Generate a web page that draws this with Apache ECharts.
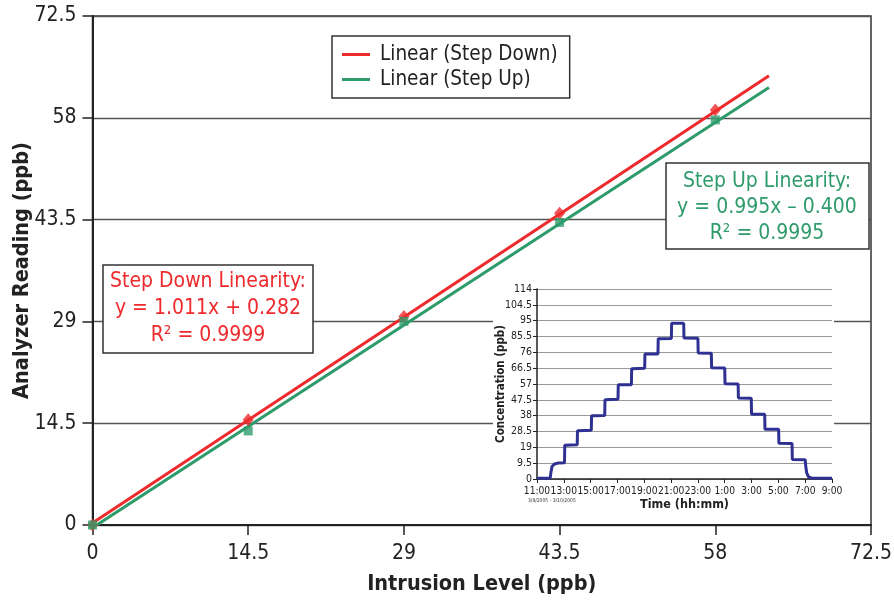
<!DOCTYPE html>
<html>
<head>
<meta charset="utf-8">
<script src="https://cdn.jsdelivr.net/npm/echarts@6/dist/echarts.min.js"></script>
<style>
  html, body { margin: 0; padding: 0; background: #fff; }
  #chart { width: 894px; height: 600px; }
</style>
</head>
<body>
<div id="chart"></div>
<script>
// main chart: intrusion level vs analyzer reading
const levelTicks = [0, 14.5, 29, 43.5, 58, 72.5]
const intrusionLevels = [0, 14.5, 29, 43.5, 58]
const stepDownReadings = [0, 15.0, 29.7, 44.4, 59.1]
const stepUpReadings = [0, 13.4, 29.0, 43.1, 57.7]
// trend line end points (x, y)
const stepDownFit = [[0, 0.3], [63, 64.0]]
const stepUpFit = [[0, -0.4], [63, 62.3]]

// inset: concentration vs time (hours after 11:00)
const timeLabels = ['11:00', '13:00', '15:00', '17:00', '19:00', '21:00', '23:00', '1:00', '3:00', '5:00', '7:00', '9:00']
const insetHours = [0, 0.98, 1.04, 1.12, 1.3, 1.6, 2.05, 2.07, 3.0, 3.02, 4.05, 4.07, 5.05, 5.07, 6.04, 6.06, 7.04, 7.06, 8.03, 8.05, 9.02, 9.04, 10.02, 10.04, 10.94, 10.96, 12.0, 12.02, 13.0, 13.02, 14.0, 14.02, 15.0, 15.02, 15.98, 16.0, 16.98, 17.0, 18.02, 18.04, 19.02, 19.04, 20.0, 20.05, 20.12, 20.25, 20.45, 22]
const insetConc = [0.4, 0.4, 4, 7.5, 9, 9.6, 9.8, 20.3, 20.6, 29, 29.2, 38, 38.1, 47.6, 47.8, 56.6, 56.5, 66.2, 66.4, 75, 75, 84.2, 84.3, 93.5, 93.5, 84.6, 84.5, 75.6, 75.5, 66.8, 66.6, 57.1, 57.0, 48.6, 48.5, 38.8, 38.8, 29.8, 29.9, 21.4, 21.3, 11.7, 11.6, 7, 3.5, 1.3, 0.6, 0.5]
const insetData = insetHours.map((h, i) => [h, insetConc[i]])

const FONT = "'DejaVu Sans Condensed', 'DejaVu Sans', sans-serif"
const RED = '#EE2A2D'
const GREEN = '#2E9B6B'
const NAVY = '#2E3192'
const BOXFONT = '21px ' + FONT

let EChart = echarts.init(document.getElementById('chart'))
let option = {
  backgroundColor: '#fff',
  textStyle: { fontFamily: FONT },
  legend: {
    left: 332,
    top: 36,
    orient: 'vertical',
    data: ['Linear (Step Down)', 'Linear (Step Up)'],
    icon: 'rect',
    itemWidth: 28,
    itemHeight: 3,
    itemGap: 4,
    padding: [8, 12, 8, 10],
    borderColor: '#333',
    borderWidth: 1.5,
    backgroundColor: '#fff',
    textStyle: { fontFamily: FONT, fontSize: 20.5, color: '#222', padding: [0, 0, 0, 5] }
  },
  grid: [
    { left: 92.5, right: 23, top: 16, bottom: 75, show: true, borderColor: '#333', borderWidth: 1.5, outerBoundsMode: 'none', containLabel: false },
    { left: 537, right: 62, top: 289, bottom: 121, outerBoundsMode: 'none', containLabel: false }
  ],
  xAxis: [
    {
      type: 'value', gridIndex: 0, min: 0, max: 72.5, interval: 14.5,
      name: 'Intrusion Level (ppb)', nameLocation: 'middle', nameGap: 48,
      nameTextStyle: { fontFamily: FONT, fontSize: 21.5, fontWeight: 'bold', color: '#222' },
      axisLine: { lineStyle: { color: '#222', width: 2 } },
      axisTick: { length: 10, lineStyle: { color: '#222', width: 1.5 } },
      axisLabel: { margin: 18, fontSize: 21, color: '#222', fontFamily: FONT },
      splitLine: { show: false }
    },
    {
      type: 'value', gridIndex: 1, min: 0, max: 22, interval: 2, z: 10,
      name: 'Time (hh:mm)', nameLocation: 'middle', nameGap: 19,
      nameTextStyle: { fontFamily: FONT, fontSize: 12.5, fontWeight: 'bold', color: '#222' },
      axisLine: { onZero: false, lineStyle: { color: '#222', width: 1.5 } },
      axisTick: { length: 4, lineStyle: { color: '#222' } },
      axisLabel: {
        margin: 7, fontSize: 10.2, color: '#222', fontFamily: FONT,
        hideOverlap: false,
        formatter: v => timeLabels[Math.round(v / 2)]
      },
      splitLine: { show: false }
    }
  ],
  yAxis: [
    {
      type: 'value', gridIndex: 0, min: 0, max: 72.5, interval: 14.5,
      name: 'Analyzer Reading (ppb)', nameLocation: 'middle', nameGap: 59, nameMoveOverlap: false,
      nameTextStyle: { fontFamily: FONT, fontSize: 21.5, fontWeight: 'bold', color: '#222' },
      axisLine: { show: true, lineStyle: { color: '#222', width: 2 } },
      axisTick: { show: true, length: 10, lineStyle: { color: '#222', width: 1.5 } },
      axisLabel: { margin: 16, fontSize: 21, color: '#222', fontFamily: FONT },
      splitLine: { lineStyle: { color: '#555', width: 1.3 } }
    },
    {
      type: 'value', gridIndex: 1, min: 0, max: 114, interval: 9.5, z: 10,
      name: 'Concentration (ppb)', nameLocation: 'middle', nameGap: 30, nameMoveOverlap: false,
      nameTextStyle: { fontFamily: FONT, fontSize: 11.5, fontWeight: 'bold', color: '#222' },
      axisLine: { show: true, lineStyle: { color: '#222', width: 1.5 } },
      axisTick: { show: true, length: 4, lineStyle: { color: '#222' } },
      axisLabel: { margin: 5, fontSize: 10.5, color: '#222', fontFamily: FONT },
      splitLine: { lineStyle: { color: '#999', width: 1 } }
    }
  ],
  graphic: [
    // white backing for the inset
    { type: 'rect', z: 3, shape: { x: 493, y: 276, width: 341, height: 240 }, style: { fill: '#fff' } },
    {
      type: 'text', z: 11, left: 528, top: 498,
      style: { text: '3/9/2005 - 3/10/2005', font: '5px ' + FONT, fill: '#333' }
    },
    // step down box
    { type: 'rect', z: 5, shape: { x: 103, y: 265, width: 210, height: 88 }, style: { fill: '#fff', stroke: '#333', lineWidth: 1.5 } },
    { type: 'text', z: 6, x: 208, y: 282, style: { text: 'Step Down Linearity:', font: BOXFONT, fill: RED, textAlign: 'center', textVerticalAlign: 'middle' } },
    { type: 'text', z: 6, x: 208, y: 309, style: { text: 'y = 1.011x + 0.282', font: BOXFONT, fill: RED, textAlign: 'center', textVerticalAlign: 'middle' } },
    { type: 'text', z: 6, x: 208, y: 336, style: { text: 'R\u00b2 = 0.9999', font: BOXFONT, fill: RED, textAlign: 'center', textVerticalAlign: 'middle' } },
    // step up box
    { type: 'rect', z: 5, shape: { x: 666, y: 163, width: 203, height: 86 }, style: { fill: '#fff', stroke: '#333', lineWidth: 1.5 } },
    { type: 'text', z: 6, x: 767, y: 182, style: { text: 'Step Up Linearity:', font: BOXFONT, fill: GREEN, textAlign: 'center', textVerticalAlign: 'middle' } },
    { type: 'text', z: 6, x: 767, y: 208, style: { text: 'y = 0.995x \u2013 0.400', font: BOXFONT, fill: GREEN, textAlign: 'center', textVerticalAlign: 'middle' } },
    { type: 'text', z: 6, x: 767, y: 234, style: { text: 'R\u00b2 = 0.9995', font: BOXFONT, fill: GREEN, textAlign: 'center', textVerticalAlign: 'middle' } }
  ],
  series: [
    {
      name: 'Linear (Step Down)', type: 'line', xAxisIndex: 0, yAxisIndex: 0,
      data: stepDownFit, symbol: 'none', color: RED,
      lineStyle: { color: RED, width: 3 }, z: 2
    },
    {
      name: 'Linear (Step Up)', type: 'line', xAxisIndex: 0, yAxisIndex: 0,
      data: stepUpFit, symbol: 'none', color: GREEN,
      lineStyle: { color: GREEN, width: 3 }, z: 2
    },
    {
      name: 'Step Down', type: 'scatter', xAxisIndex: 0, yAxisIndex: 0,
      data: intrusionLevels.map((x, i) => [x, stepDownReadings[i]]),
      symbol: 'diamond', symbolSize: [11, 13], itemStyle: { color: RED }, z: 3
    },
    {
      name: 'Step Up', type: 'scatter', xAxisIndex: 0, yAxisIndex: 0,
      data: intrusionLevels.map((x, i) => [x, stepUpReadings[i]]),
      symbol: 'rect', symbolSize: 9, itemStyle: { color: GREEN }, z: 3
    },
    {
      name: 'Concentration', type: 'line', xAxisIndex: 1, yAxisIndex: 1,
      data: insetData, symbol: 'none', z: 12,
      lineStyle: { color: NAVY, width: 3 }
    }
  ]
}
EChart.setOption(option)
</script>
</body>
</html>
